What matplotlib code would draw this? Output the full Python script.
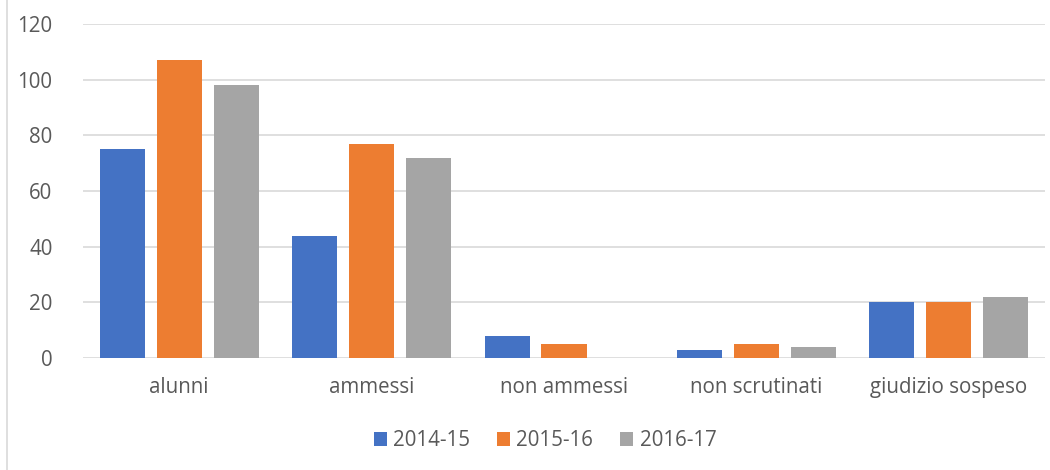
import matplotlib
matplotlib.use("Agg")
import matplotlib.pyplot as plt
import numpy as np
from matplotlib.lines import Line2D

categories = ["alunni", "ammessi", "non ammessi", "non scrutinati", "giudizio sospeso"]
series_names = ["2014-15", "2015-16", "2016-17"]
s2014 = [75, 44, 8, 3, 20]
s2015 = [107, 77, 5, 5, 20]
s2016 = [98, 72, 0, 4, 22]
colors = ["#4472C4", "#ED7D31", "#A5A5A5"]
yticks = [0, 20, 40, 60, 80, 100, 120]

plt.rcParams['font.family'] = ['Open Sans', 'DejaVu Sans']
txt = "#595959"

fig = plt.figure(figsize=(10.5, 4.7), dpi=100)
ax = fig.add_axes([83/1050, 1-358/470, (1045-83)/1050, (358-24)/470])

x = np.arange(len(categories))
w = 0.234
step = 0.296
for i, (vals, name, c) in enumerate(zip([s2014, s2015, s2016], series_names, colors)):
    ax.bar(x + (i-1)*step, vals, width=w, color=c, label=name, zorder=3)

ax.set_xlim(-0.5, len(categories)-0.5)
ax.set_ylim(0, 120)
ax.set_yticks(yticks)
ax.set_xticks(x)
ax.set_xticklabels(categories)
ax.grid(axis='y', color='#D9D9D9', linewidth=1.2, zorder=0)
for s in ax.spines.values():
    s.set_visible(False)
ax.tick_params(axis='both', length=0, labelsize=14.8, colors=txt)
ax.tick_params(axis='y', pad=22)
ax.tick_params(axis='x', pad=14)

leg = fig.legend(loc='center', bbox_to_anchor=(545/1050, 1-441/470), ncol=3, frameon=False,
                 fontsize=14.8, handlelength=0.65, handleheight=0.65, handletextpad=0.3,
                 columnspacing=1.3)
for t in leg.get_texts():
    t.set_color(txt)

fig.add_artist(Line2D([7/1050, 7/1050], [0, 1], transform=fig.transFigure, color='#D9D9D9', linewidth=1.2))

fig.savefig("out.png", dpi=100)
